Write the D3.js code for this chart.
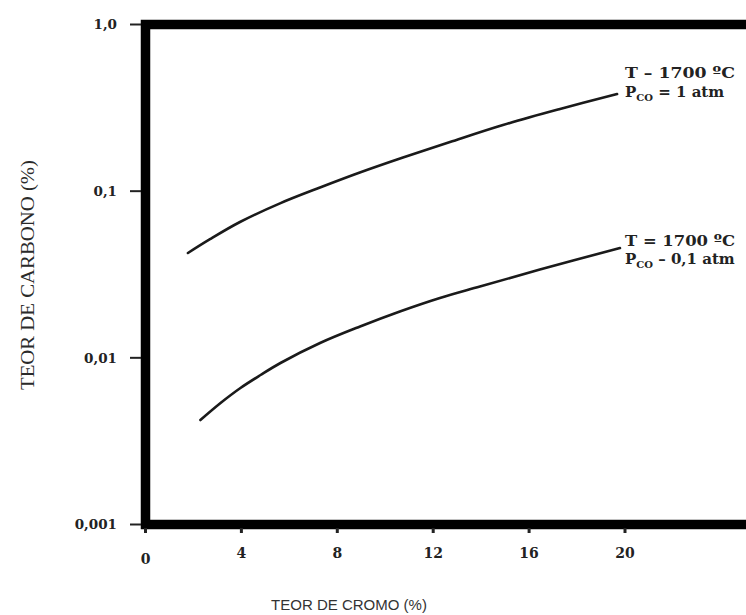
<!DOCTYPE html>
<html><head><meta charset="utf-8">
<script src="https://cdn.jsdelivr.net/npm/d3@7"></script>
<style>body{margin:0;background:#fff}svg{display:block}</style>
</head><body>
<svg id="c" width="746" height="615"></svg>
<script>
// Data
const cromoUpper = [1.77, 2.69, 3.94, 5.61, 7.28, 8.94, 10.74, 12.70, 14.91, 17.29, 19.67];
const carbonUpper = [0.04256, 0.0515, 0.0653, 0.0845, 0.1052, 0.1294, 0.1592, 0.1972, 0.2494, 0.3112, 0.3828];
const cromoLower = [2.29, 3.13, 3.96, 4.80, 5.63, 7.28, 8.95, 10.61, 12.28, 13.95, 16.45, 19.79];
const carbonLower = [0.004236, 0.005358, 0.006592, 0.007888, 0.009311, 0.01227, 0.01542, 0.01897, 0.02286, 0.02679, 0.03388, 0.0456];
const xTicks = [0, 4, 8, 12, 16, 20];
const yTicks = [1, 0.1, 0.01, 0.001];
const yTickLabels = ["1,0", "0,1", "0,01", "0,001"];
const labelUpper = ["T \u2013 1700 \u00BAC", " = 1 atm"];
const labelLower = ["T = 1700 \u00BAC", " \u2013 0,1 atm"];

const svg = d3.select("#c");
const x = d3.scaleLinear().domain([0, 20]).range([145.5, 625]);
const y = d3.scaleLog().domain([0.001, 1]).range([524.5, 24.5]);

// frame
svg.append("rect").attr("x", x(0)).attr("y", y(1))
  .attr("width", 780 - x(0)).attr("height", y(0.001) - y(1))
  .attr("fill", "none").attr("stroke", "#000").attr("stroke-width", 9.5);

// y ticks
const tickFont = "'DejaVu Serif', serif";
svg.selectAll(".yt").data(yTicks).join("line")
  .attr("x1", 130).attr("x2", 141)
  .attr("y1", d => y(d)).attr("y2", d => y(d))
  .attr("stroke", "#222").attr("stroke-width", 2);
svg.selectAll(".yl").data(yTicks).join("text")
  .attr("x", 117).attr("y", d => y(d)).attr("dy", "0.36em")
  .attr("text-anchor", "end").attr("font-family", tickFont)
  .attr("font-weight", "bold").attr("font-size", 13.5).attr("fill", "#222")
  .text((d, i) => yTickLabels[i]);

// x ticks
svg.selectAll(".xt").data(xTicks).join("line")
  .attr("x1", d => x(d)).attr("x2", d => x(d))
  .attr("y1", 528).attr("y2", 533)
  .attr("stroke", "#222").attr("stroke-width", 3);
svg.selectAll(".xl").data(xTicks).join("text")
  .attr("x", d => x(d)).attr("y", d => d === 0 ? 559 : 553).attr("dy", "0.36em")
  .attr("text-anchor", "middle").attr("font-family", tickFont)
  .attr("font-weight", "bold").attr("font-size", 14).attr("fill", "#222")
  .text(d => d);

// axis titles
svg.append("text").attr("transform", "translate(34,275) rotate(-90)")
  .attr("text-anchor", "middle").attr("font-family", "'Liberation Serif', serif")
  .attr("font-size", 18).attr("fill", "#2a2a2a")
  .attr("textLength", 230).attr("lengthAdjust", "spacingAndGlyphs")
  .text("TEOR DE CARBONO (%)");
svg.append("text").attr("x", 349).attr("y", 610)
  .attr("text-anchor", "middle").attr("font-family", "'Liberation Sans', Arial, sans-serif")
  .attr("font-size", 15).attr("fill", "#333")
  .text("TEOR DE CROMO (%)");

// curves
const line = d3.line().x(d => x(d[0])).y(d => y(d[1])).curve(d3.curveCatmullRom.alpha(0.5));
[[cromoUpper, carbonUpper], [cromoLower, carbonLower]].forEach(([cx, cy]) => {
  svg.append("path").datum(cx.map((v, i) => [v, cy[i]]))
    .attr("d", line).attr("fill", "none").attr("stroke", "#1a1a1a")
    .attr("stroke-width", 2.6).attr("stroke-linecap", "round");
});

// curve labels
function curveLabel(lbl, ty, py) {
  const g = svg.append("g").attr("font-family", tickFont).attr("font-weight", "bold")
    .attr("fill", "#222");
  g.append("text").attr("x", 625).attr("y", ty).attr("dy", "0.36em")
    .attr("font-size", 15.5).attr("textLength", 110).attr("lengthAdjust", "spacingAndGlyphs")
    .text(lbl[0]);
  const t = g.append("text").attr("x", 625).attr("y", py).attr("dy", "0.36em")
    .attr("font-size", 15);
  t.append("tspan").text("P");
  t.append("tspan").attr("dy", 4).attr("font-size", 10).text("CO");
  t.append("tspan").attr("dy", -4).text(lbl[1]);
}
curveLabel(labelUpper, 72, 92);
curveLabel(labelLower, 240, 259);
</script>
</body></html>
